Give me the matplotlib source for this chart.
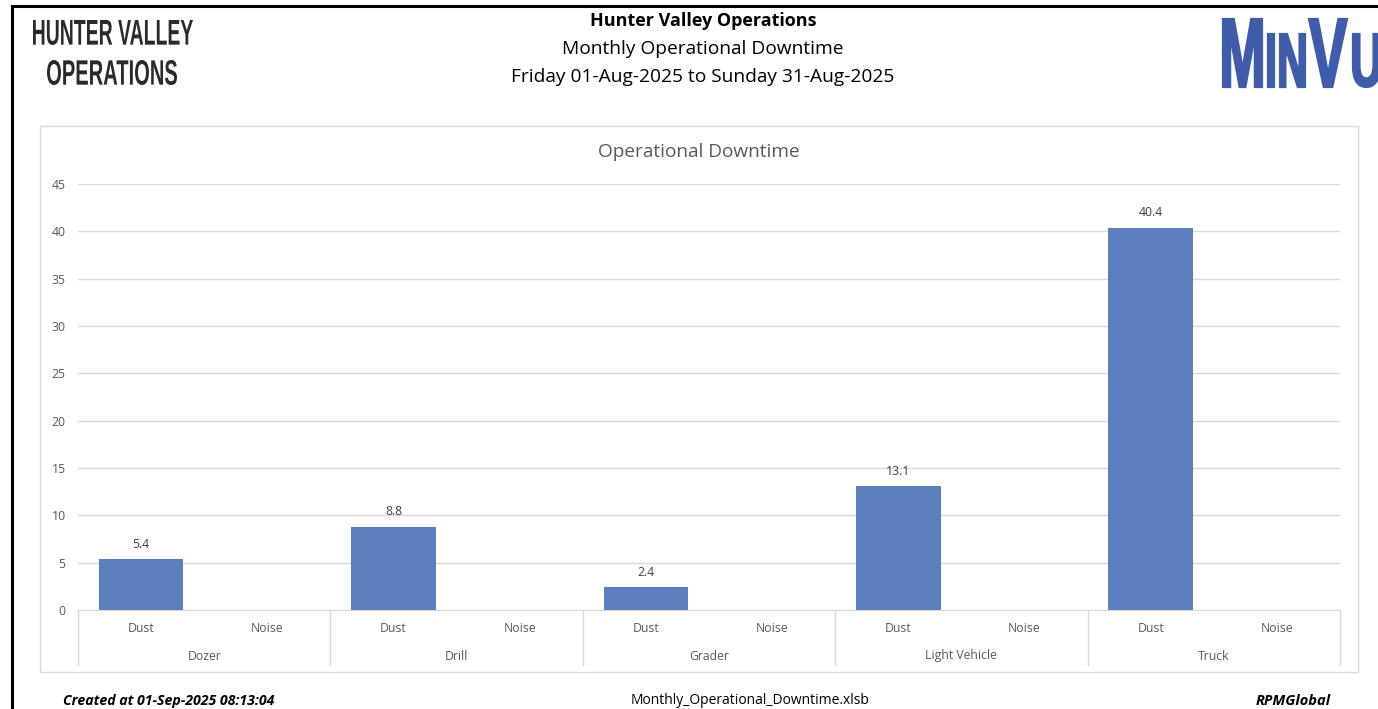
import matplotlib
matplotlib.use("Agg")
import matplotlib.pyplot as plt
from matplotlib.patches import Rectangle, PathPatch
from matplotlib.textpath import TextPath
from matplotlib.font_manager import FontProperties
from matplotlib.transforms import Affine2D

groups = ["Dozer", "Drill", "Grader", "Light Vehicle", "Truck"]
causes = ["Dust", "Noise"]
dust = [5.4, 8.8, 2.4, 13.1, 40.4]
noise = [None, None, None, None, None]
y_ticks = [0, 5, 10, 15, 20, 25, 30, 35, 40, 45]

W, H = 1378, 709
BAR = "#5B7FBC"
GREY = "#595959"
LIGHT = "#D9D9D9"
BODY = ["Open Sans", "DejaVu Sans"]


def fx(px):
    return px / W


def fy(py):
    return 1 - py / H


def squeezed(ax, s, box, color, weight="bold", edge=0):
    # draw text stretched into a pixel box (x0, x1, top, bottom) - stands in for a narrow font
    x0, x1, top, bottom = box
    path = TextPath((0, 0), s, size=50,
                    prop=FontProperties(family="Liberation Sans", weight=weight))
    bb = path.get_extents()
    sx = (x1 - x0) / bb.width
    sy = (bottom - top) / bb.height
    tr = Affine2D().translate(-bb.x0, -bb.y0).scale(sx, -sy).translate(x0, bottom)
    ax.add_patch(PathPatch(tr.transform_path(path), fc=color,
                           ec=color if edge else "none", lw=edge))


fig = plt.figure(figsize=(W / 100, H / 100), dpi=100)

# pixel overlay for header graphics
over = fig.add_axes([0, 0, 1, 1])
over.set_xlim(0, W)
over.set_ylim(H, 0)
over.axis("off")

# page frame (left + top rules)
over.plot([12, 12], [6, H], color="black", lw=2.2)
over.plot([12, W], [6, 6], color="black", lw=2.2)

# header left
squeezed(over, "HUNTER VALLEY", (33, 193, 20, 45), "#2A2A2A")
squeezed(over, "OPERATIONS", (47, 177, 60, 85), "#2A2A2A")

# MinVu logo, letter by letter
logo = "#3F5CAA"
for ch, box in [("M", (1223, 1262, 19, 87)), ("I", (1268, 1274, 34, 87)),
                ("N", (1280, 1305, 34, 87)), ("V", (1309, 1347, 19, 87)),
                ("U", (1353, 1380, 34, 87))]:
    squeezed(over, ch, box, logo, edge=1.6)

fig.text(fx(703), fy(21), "Hunter Valley Operations", family=BODY,
         fontsize=13, fontweight="bold", ha="center", va="center", color="black")
fig.text(fx(703), fy(49), "Monthly Operational Downtime", family=BODY,
         fontsize=13.8, ha="center", va="center", color="black")
fig.text(fx(703), fy(77), "Friday 01-Aug-2025 to Sunday 31-Aug-2025", family=BODY,
         fontsize=13.8, ha="center", va="center", color="black")

# chart box
over.add_patch(Rectangle((40, 126), 1318, 546, fill=False, ec=LIGHT, lw=1))
fig.text(fx(699), fy(152), "Operational Downtime", family=BODY, fontsize=13.7,
         color=GREY, ha="center", va="center")

ax = fig.add_axes([fx(78), fy(610), fx(1340) - fx(78), fy(184) - fy(610)])

n = len(groups) * len(causes)
xs = list(range(n))
vals = []
for d, ns in zip(dust, noise):
    vals.extend([d, ns])

for x, v in zip(xs, vals):
    if v is None:
        continue
    ax.bar(x, v, width=0.67, color=BAR, zorder=3)
    ax.annotate(f"{v:.1f}", (x, v), xytext=(0, 6), textcoords="offset points",
                ha="center", va="bottom", fontsize=8.8, color="#404040", family=BODY)

ax.set_xlim(-0.5, n - 0.5)
ax.set_ylim(0, 45)
ax.set_yticks(y_ticks)
ax.set_yticklabels([str(t) for t in y_ticks], family=BODY, fontsize=8.8, color=GREY)
ax.tick_params(axis="y", length=0, pad=9)
ax.set_xticks([])
ax.grid(axis="y", color=LIGHT, lw=1, zorder=0)
for s in ["top", "right", "left"]:
    ax.spines[s].set_visible(False)
ax.spines["bottom"].set_color(LIGHT)

# two-level category axis
tr = ax.get_xaxis_transform()
axh = 610 - 184
for x in xs:
    ax.text(x, -(628 - 610) / axh, causes[x % 2], transform=tr, ha="center",
            va="center", fontsize=8.8, color=GREY, family=BODY)
for i, g in enumerate(groups):
    ax.text(2 * i + 0.5, -(656 - 610) / axh, g, transform=tr, ha="center",
            va="center", fontsize=8.8, color=GREY, family=BODY)
for i in range(len(groups) + 1):
    ax.plot([2 * i - 0.5, 2 * i - 0.5], [0, -(665 - 610) / axh], transform=tr,
            color=LIGHT, lw=1, clip_on=False)

# footer
fig.text(fx(63), fy(701), "Created at 01-Sep-2025 08:13:04", family=BODY,
         fontsize=10.2, fontweight="bold", fontstyle="italic", ha="left", va="center")
fig.text(fx(750), fy(701), "Monthly_Operational_Downtime.xlsb", family=BODY,
         fontsize=10, ha="center", va="center")
fig.text(fx(1331), fy(701), "RPMGlobal", family=BODY, fontsize=10.5,
         fontweight="bold", fontstyle="italic", ha="right", va="center")

fig.savefig("out.png", dpi=100)
